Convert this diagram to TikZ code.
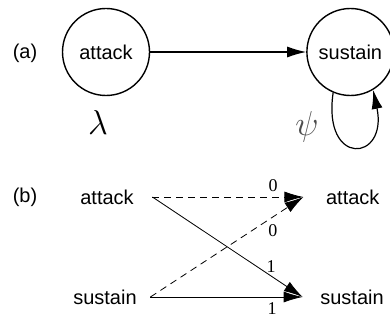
\documentclass[tikz,border=0pt]{standalone}
\usepackage{fontspec}
\setmainfont{Liberation Sans}
\newfontfamily\numfont{Liberation Serif}
\usetikzlibrary{positioning,arrows.meta}

\begin{document}
\begin{tikzpicture}
        [
            x=0.5pt, y=-0.5pt,
            statenode/.style={circle, draw=black, line width=0.7pt, minimum size=43.5pt, inner sep=0pt},
            srcnode/.style={rectangle, minimum width=45pt, inner sep=0pt},
            dstnode/.style={rectangle, minimum width=49pt, inner sep=0pt},
            tagnode/.style={inner sep=0pt},
            greeknode/.style={inner sep=0pt, font=\fontsize{17}{20}\selectfont},
            numnode/.style={font=\numfont\fontsize{9}{11}\selectfont, inner sep=1pt},
            bigarrow/.style={-{Latex[length=9.5pt,width=5.5pt]}},
        ]
        \useasboundingbox (0,0) rectangle (390,320);

        %Nodes (a)
        \node[tagnode]          (taga)      at (25,53)                  {(a)};
        \node[statenode]        (attack)    at (106,52)                 {attack};
        \node[statenode]        (sustain)   [right=78pt of attack]      {sustain};
        \node[greeknode]        (lambda)    at (98,123)                 {$\lambda$};
        \node[greeknode, text=black!70] (psi) at (307,127)              {$\psi$};

        %Lines (a)
        \draw[bigarrow, line width=0.6pt] (attack.east) -- (sustain.west);
        \draw[bigarrow, line width=0.6pt] (sustain.-113) .. controls +(-11,75) and +(15,72) .. (sustain.-59);

        %Nodes (b)
        \node[tagnode]          (tagb)      at (25,197)                 {(b)};
        \node[srcnode]          (atksrc)    at (107,197)                {attack};
        \node[srcnode]          (susrc)     at (105,297)                {sustain};
        \node[dstnode]          (atkdst)    [right=75.5pt of atksrc]    {attack};
        \node[dstnode]          (sudst)     at (352,297)                {sustain};

        %Lines (b)
        \draw[bigarrow, dash pattern=on 3.5pt off 2.5pt] (atksrc.east) -- node[numnode, pos=0.8, above=1.5pt] {0} (atkdst.west);
        \draw[bigarrow, dash pattern=on 3.5pt off 2.5pt] (susrc.east) -- node[numnode, pos=0.8, below=2.5pt] {0} (atkdst.west);
        \draw[bigarrow] (atksrc.east) -- node[numnode, pos=0.79, above=0.5pt] {1} (sudst.west);
        \draw[bigarrow] (susrc.east) -- node[numnode, pos=0.8, below=1.5pt] {1} (sudst.west);
\end{tikzpicture}
\end{document}
